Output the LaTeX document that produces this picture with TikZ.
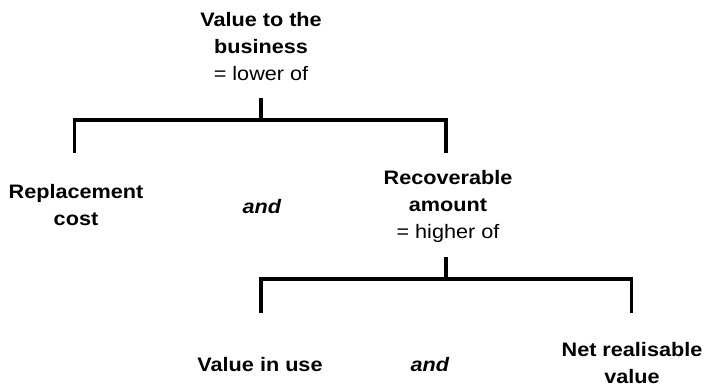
\documentclass[tikz,border=0pt]{standalone}
\usepackage{fontspec}
\newfontfamily\lsans[FakeStretch=1.11]{Liberation Sans}
\begin{document}
\begin{tikzpicture}[x=1pt,y=-1pt,
  lbl/.style={font=\lsans\fontsize{19.5}{27}\selectfont, align=center, inner sep=0pt, anchor=base},
  conn/.style={line width=3.3pt}]
\useasboundingbox (0,0) rectangle (706,386);
\node[lbl] (vb) at (261,80) {\textbf{Value to the}\\\textbf{business}\\= lower of};
\node[lbl] (rc) at (76,225) {\textbf{Replacement}\\\textbf{cost}};
\node[lbl] (and1) at (262,213) {\textbf{\textit{and}}};
\node[lbl] (ra) at (448,238) {\textbf{Recoverable}\\\textbf{amount}\\= higher of};
\node[lbl] (viu) at (260,371) {\textbf{Value in use}};
\node[lbl] (and2) at (430,371) {\textbf{\textit{and}}};
\node[lbl] (nrv) at (632,383) {\textbf{Net realisable}\\\textbf{value}};
\coordinate (t1) at (261,98);
\coordinate (j1) at (261,120);
\coordinate (l1) at (74.5,120);
\coordinate (r1) at (446,120);
\coordinate (lb1) at (74.5,153);
\coordinate (rb1) at (446,153);
\coordinate (t2) at (446,257);
\coordinate (j2) at (446,279);
\coordinate (l2) at (261,279);
\coordinate (r2) at (631.5,279);
\coordinate (lb2) at (261,313);
\coordinate (rb2) at (631.5,313);
\draw[conn] (t1) -- (j1);
\draw[conn] (lb1) -- (l1) -- (r1) -- (rb1);
\draw[conn] (t2) -- (j2);
\draw[conn] (lb2) -- (l2) -- (r2) -- (rb2);
\end{tikzpicture}
\end{document}
